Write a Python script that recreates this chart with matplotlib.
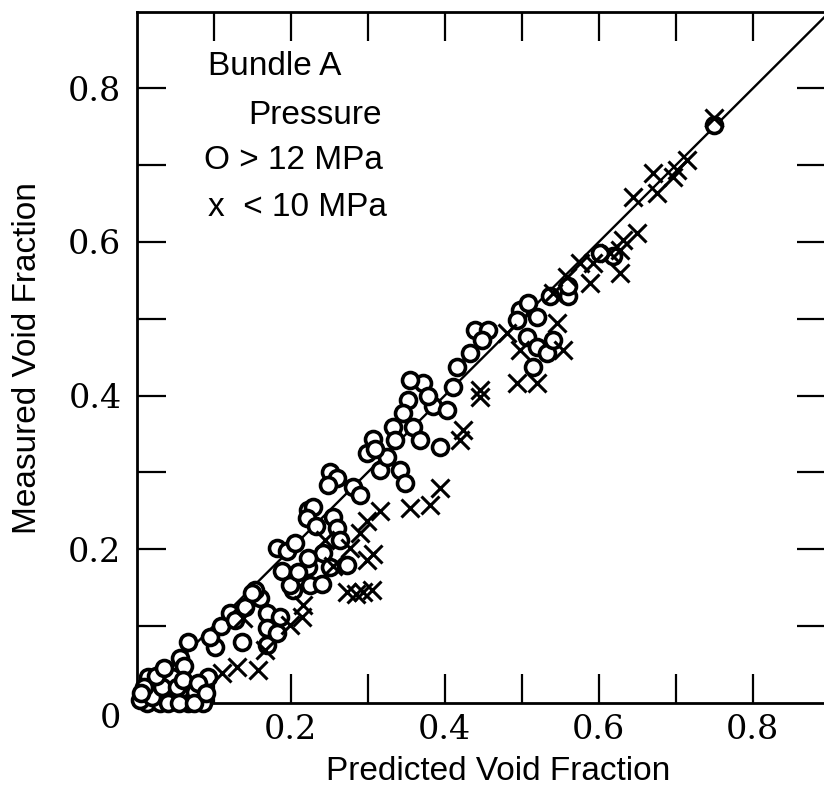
import matplotlib
matplotlib.use('Agg')
import matplotlib.pyplot as plt
import numpy as np

# 数据：Bundle A，高压（圆圈）与低压（叉）
circle_x = [0.013, 0.030, 0.067, 0.086, 0.004, 0.020, 0.046, 0.015, 0.046, 0.093,
            0.033, 0.052, 0.076, 0.067, 0.056, 0.062, 0.102, 0.095, 0.121, 0.141,
            0.160, 0.154, 0.169, 0.169, 0.137, 0.169, 0.182, 0.189, 0.203, 0.222,
            0.225, 0.241, 0.273, 0.372, 0.352, 0.346, 0.385, 0.403, 0.333, 0.359,
            0.335, 0.368, 0.307, 0.299, 0.316, 0.342, 0.348, 0.325, 0.394, 0.251,
            0.260, 0.248, 0.281, 0.223, 0.229, 0.221, 0.255, 0.260, 0.264, 0.242,
            0.251, 0.182, 0.195, 0.206, 0.223, 0.199, 0.150, 0.186, 0.411, 0.416,
            0.433, 0.439, 0.456, 0.448, 0.498, 0.508, 0.494, 0.520, 0.507, 0.520,
            0.515, 0.533, 0.541, 0.537, 0.560, 0.619, 0.749, 0.602, 0.560,
            0.010, 0.025, 0.040, 0.055, 0.075, 0.060, 0.080, 0.090, 0.035, 0.005,
            0.110, 0.128, 0.210, 0.233, 0.290, 0.310, 0.355, 0.378]
circle_y = [0.000, 0.000, 0.000, 0.000, 0.003, 0.007, 0.010, 0.033, 0.033, 0.033,
            0.020, 0.020, 0.014, 0.079, 0.058, 0.048, 0.072, 0.085, 0.117, 0.124,
            0.136, 0.147, 0.117, 0.097, 0.079, 0.075, 0.091, 0.172, 0.147, 0.176,
            0.153, 0.155, 0.179, 0.416, 0.394, 0.377, 0.387, 0.381, 0.359, 0.359,
            0.342, 0.342, 0.344, 0.325, 0.303, 0.303, 0.286, 0.320, 0.333, 0.301,
            0.293, 0.284, 0.281, 0.251, 0.255, 0.241, 0.242, 0.228, 0.212, 0.195,
            0.176, 0.202, 0.198, 0.208, 0.189, 0.153, 0.143, 0.111, 0.411, 0.437,
            0.455, 0.485, 0.485, 0.472, 0.511, 0.520, 0.498, 0.502, 0.476, 0.463,
            0.437, 0.455, 0.472, 0.530, 0.530, 0.582, 0.752, 0.586, 0.543,
            0.020, 0.035, 0.000, 0.000, 0.000, 0.030, 0.025, 0.012, 0.045, 0.012,
            0.100, 0.108, 0.170, 0.230, 0.270, 0.330, 0.420, 0.400]

cross_x = [0.138, 0.158, 0.130, 0.111, 0.215, 0.216, 0.273, 0.294, 0.306, 0.299,
           0.316, 0.299, 0.307, 0.290, 0.355, 0.381, 0.394, 0.285, 0.255, 0.446,
           0.446, 0.494, 0.520, 0.554, 0.498, 0.546, 0.541, 0.576, 0.593, 0.589,
           0.628, 0.424, 0.420, 0.481, 0.559, 0.749, 0.715, 0.702, 0.697, 0.671,
           0.676, 0.645, 0.650, 0.632, 0.628, 0.615, 0.167, 0.199, 0.245, 0.277]
cross_y = [0.110, 0.042, 0.046, 0.039, 0.111, 0.127, 0.144, 0.144, 0.147, 0.186,
           0.249, 0.236, 0.194, 0.221, 0.254, 0.258, 0.280, 0.142, 0.178, 0.407,
           0.398, 0.416, 0.416, 0.459, 0.459, 0.494, 0.533, 0.572, 0.572, 0.546,
           0.559, 0.355, 0.342, 0.481, 0.554, 0.762, 0.707, 0.694, 0.685, 0.690,
           0.664, 0.659, 0.612, 0.603, 0.590, 0.586, 0.068, 0.101, 0.212, 0.201]

ticks = np.arange(0.1, 0.85, 0.1)
label_ticks = [0.2, 0.4, 0.6, 0.8]

fig = plt.figure(figsize=(8.24, 8.05), dpi=100)
ax = fig.add_axes([0.1659, 0.1272, 0.8365, 0.8583])

ax.plot([0, 0.9], [0, 0.9], color='black', lw=1.7, zorder=1)
ax.plot(circle_x, circle_y, 'o', ms=11.5, mfc='white', mec='black', mew=2.6,
        clip_on=False, zorder=3)
ax.plot(cross_x, cross_y, 'x', ms=13.5, mec='black', mew=2.2, clip_on=False, zorder=4)

ax.set_xlim(0, 0.895)
ax.set_ylim(0, 0.9)

ax.set_xticks(ticks)
ax.set_yticks(ticks)
ax.set_xticklabels(['%.1f' % t if round(t, 1) in label_ticks else '' for t in ticks])
ax.set_yticklabels(['%.1f' % t if round(t, 1) in label_ticks else '' for t in ticks])
ax.tick_params(direction='in', length=21, width=1.6, top=True, right=True,
               labelsize=24, labelfontfamily='DejaVu Serif')
ax.tick_params(axis='y', pad=11)
ax.tick_params(axis='x', pad=8)
for s in ax.spines.values():
    s.set_linewidth(2.0)

ax.text(-0.034, -0.022, '0', transform=ax.transData, ha='center', va='center',
        fontsize=24, family='DejaVu Serif', clip_on=False)

# 轴标题
ax.text(0.524, -0.1, 'Predicted Void Fraction', transform=ax.transAxes,
        ha='center', va='center', fontsize=24, family='Liberation Sans')
ax.text(-0.158, 0.499, 'Measured Void Fraction', transform=ax.transAxes,
        ha='center', va='center', rotation=90, fontsize=24, family='Liberation Sans')

kw = dict(transform=ax.transAxes, fontsize=24, family='Liberation Sans', va='center')
ax.text(0.104, 0.921, 'Bundle A', **kw)
ax.text(0.162, 0.850, 'Pressure', **kw)
ax.text(0.097, 0.784, 'O > 12 MPa', **kw)
ax.text(0.104, 0.716, 'x  < 10 MPa', **kw)

fig.savefig('out.png', dpi=100)
